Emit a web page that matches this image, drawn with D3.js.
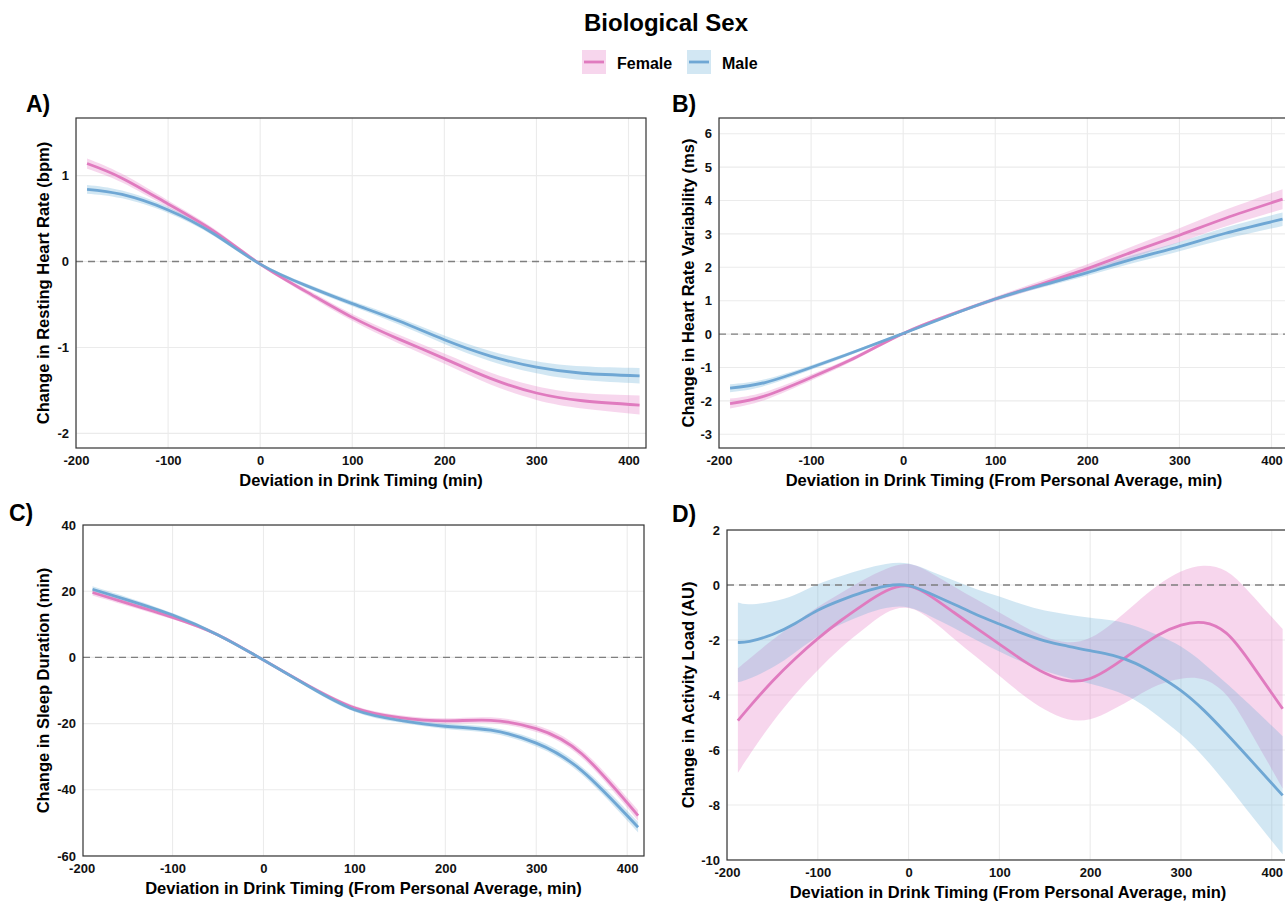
<!DOCTYPE html>
<html>
<head>
<meta charset="utf-8">
<script src="https://cdn.jsdelivr.net/npm/d3@7"></script>
<style>
  html, body { margin: 0; padding: 0; background: #fff; }
  svg { display: block; font-family: "Liberation Sans", Arial, Helvetica, sans-serif; }
</style>
</head>
<body>
<svg id="chart" width="1285" height="901"></svg>
<script>
// ---- Data: model estimates (mean and CI half-width) per sex ----
const sexes = ["Female", "Male"];
const xTickValues = [-200, -100, 0, 100, 200, 300, 400];

// A) Resting heart rate (bpm)
const rhrX = [-188, -150, -100, -50, 0, 50, 100, 150, 200, 250, 300, 350, 412];
const rhrFemale = [1.14, 0.97, 0.67, 0.35, -0.03, -0.35, -0.65, -0.90, -1.13, -1.36, -1.53, -1.62, -1.67];
const rhrMale = [0.84, 0.78, 0.60, 0.32, -0.03, -0.28, -0.49, -0.69, -0.91, -1.10, -1.23, -1.30, -1.33];
const rhrFemaleCI = [0.06, 0.05, 0.04, 0.03, 0.02, 0.03, 0.04, 0.05, 0.06, 0.07, 0.08, 0.09, 0.11];
const rhrMaleCI = [0.05, 0.045, 0.035, 0.025, 0.02, 0.025, 0.03, 0.04, 0.05, 0.06, 0.07, 0.08, 0.09];
const rhrYTicks = [-2, -1, 0, 1];

// B) Heart rate variability (ms)
const hrvX = [-188, -150, -100, -50, 0, 50, 100, 150, 200, 250, 300, 350, 412];
const hrvFemale = [-2.08, -1.85, -1.30, -0.68, 0.02, 0.57, 1.05, 1.50, 1.96, 2.47, 2.96, 3.47, 4.04];
const hrvMale = [-1.62, -1.45, -1.00, -0.50, 0.02, 0.55, 1.05, 1.46, 1.84, 2.25, 2.62, 3.02, 3.44];
const hrvFemaleCI = [0.15, 0.12, 0.09, 0.06, 0.04, 0.05, 0.07, 0.10, 0.13, 0.17, 0.21, 0.25, 0.30];
const hrvMaleCI = [0.12, 0.10, 0.07, 0.05, 0.03, 0.04, 0.05, 0.07, 0.09, 0.12, 0.14, 0.17, 0.20];
const hrvYTicks = [-3, -2, -1, 0, 1, 2, 3, 4, 5, 6];

// C) Sleep duration (min)
const sleepX = [-188, -150, -100, -50, 0, 50, 100, 150, 200, 250, 300, 350, 412];
const sleepFemale = [19.6, 16.4, 12.1, 6.8, -0.8, -8.6, -15.2, -18.2, -19.2, -19.0, -21.5, -29.1, -47.8];
const sleepMale = [20.6, 17.4, 12.8, 6.8, -0.8, -8.8, -15.8, -19.0, -20.8, -22.0, -25.9, -34.2, -51.3];
const sleepFemaleCI = [0.9, 0.8, 0.6, 0.5, 0.4, 0.5, 0.6, 0.7, 0.8, 0.9, 1.0, 1.2, 1.6];
const sleepMaleCI = [0.9, 0.8, 0.6, 0.5, 0.4, 0.5, 0.6, 0.7, 0.8, 0.9, 1.0, 1.2, 1.6];
const sleepYTicks = [-60, -40, -20, 0, 20, 40];

// D) Activity load (AU)
const loadX = [-188, -175, -150, -125, -100, -75, -50, -25, 0, 25, 50, 75, 100, 125, 150, 175, 200, 225, 250, 275, 300, 325, 350, 375, 412];
const loadFemale = [-4.93, -4.42, -3.5, -2.68, -1.95, -1.3, -0.72, -0.22, -0.04, -0.42, -1.0, -1.58, -2.15, -2.72, -3.2, -3.48, -3.4, -2.95, -2.37, -1.82, -1.46, -1.37, -1.75, -2.75, -4.5];
const loadMale = [-2.09, -2.05, -1.8, -1.4, -0.92, -0.56, -0.26, -0.04, -0.02, -0.33, -0.7, -1.08, -1.42, -1.75, -2.03, -2.22, -2.39, -2.56, -2.85, -3.3, -3.84, -4.55, -5.4, -6.3, -7.65];
const loadFemaleCI = [1.9, 1.75, 1.5, 1.3, 1.15, 1.0, 0.9, 0.8, 0.8, 0.85, 0.95, 1.05, 1.15, 1.25, 1.33, 1.4, 1.48, 1.58, 1.7, 1.82, 1.95, 2.07, 2.25, 2.5, 2.9];
const loadMaleCI = [1.45, 1.35, 1.2, 1.05, 0.95, 0.88, 0.83, 0.8, 0.8, 0.82, 0.86, 0.93, 1.0, 1.05, 1.1, 1.15, 1.2, 1.27, 1.35, 1.47, 1.6, 1.7, 1.83, 1.97, 2.15];
const loadYTicks = [-10, -8, -6, -4, -2, 0, 2];

// ---- Styling ----
const lineColor = { Female: "#e07bbf", Male: "#6fa7d4" };
const fillColor = { Female: "#e377c2", Male: "#6baed6" };
const fillOpacity = 0.3;
const curve = d3.curveNatural;
const tickFormat = d => String(d);

const svg = d3.select("#chart");
svg.append("rect").attr("width", 1285).attr("height", 901).attr("fill", "#fff");

// ---- Title and legend ----
svg.append("text")
  .attr("x", 666).attr("y", 31)
  .attr("text-anchor", "middle")
  .attr("font-size", 24).attr("font-weight", "bold")
  .text("Biological Sex");

const legend = svg.append("g");
const legendItems = [
  { key: "Female", x: 582, tx: 617 },
  { key: "Male", x: 687, tx: 722 }
];
legendItems.forEach(it => {
  legend.append("rect")
    .attr("x", it.x).attr("y", 50).attr("width", 24).attr("height", 24)
    .attr("fill", fillColor[it.key]).attr("fill-opacity", fillOpacity);
  legend.append("line")
    .attr("x1", it.x + 2).attr("x2", it.x + 22).attr("y1", 62).attr("y2", 62)
    .attr("stroke", lineColor[it.key]).attr("stroke-width", 2.8);
  legend.append("text")
    .attr("x", it.tx).attr("y", 69)
    .attr("font-size", 16).attr("font-weight", "bold")
    .text(it.key);
});

// ---- Panels ----
const panels = [
  {
    label: "A)", labelX: 26, labelY: 112,
    box: { left: 76, top: 118, right: 646, bottom: 448 },
    xDomain: [-200, 419], yDomain: [-2.17, 1.67], yTicks: rhrYTicks,
    yTitle: "Change in Resting Heart Rate (bpm)", yTitleX: 43,
    xTitle: "Deviation in Drink Timing (min)",
    x: rhrX, series: { Female: [rhrFemale, rhrFemaleCI], Male: [rhrMale, rhrMaleCI] }
  },
  {
    label: "B)", labelX: 672, labelY: 112,
    box: { left: 719, top: 118, right: 1289, bottom: 448 },
    xDomain: [-200, 419], yDomain: [-3.41, 6.47], yTicks: hrvYTicks,
    yTitle: "Change in Heart Rate Variability (ms)", yTitleX: 688,
    xTitle: "Deviation in Drink Timing (From Personal Average, min)",
    x: hrvX, series: { Female: [hrvFemale, hrvFemaleCI], Male: [hrvMale, hrvMaleCI] }
  },
  {
    label: "C)", labelX: 9, labelY: 521,
    box: { left: 83, top: 525, right: 644, bottom: 856 },
    xDomain: [-198.5, 418.5], yDomain: [-60, 40], yTicks: sleepYTicks,
    yTitle: "Change in Sleep Duration (min)", yTitleX: 43,
    xTitle: "Deviation in Drink Timing (From Personal Average, min)",
    x: sleepX, series: { Female: [sleepFemale, sleepFemaleCI], Male: [sleepMale, sleepMaleCI] }
  },
  {
    label: "D)", labelX: 672, labelY: 522,
    box: { left: 727, top: 530, right: 1289, bottom: 860 },
    xDomain: [-200, 419], yDomain: [-10, 2], yTicks: loadYTicks,
    yTitle: "Change in Activity Load (AU)", yTitleX: 688,
    xTitle: "Deviation in Drink Timing (From Personal Average, min)",
    x: loadX, series: { Female: [loadFemale, loadFemaleCI], Male: [loadMale, loadMaleCI] }
  }
];

panels.forEach((p, i) => {
  const b = p.box;
  const x = d3.scaleLinear().domain(p.xDomain).range([b.left, b.right]);
  const y = d3.scaleLinear().domain(p.yDomain).range([b.bottom, b.top]);
  const g = svg.append("g");

  const clipId = "clip" + i;
  g.append("clipPath").attr("id", clipId)
    .append("rect").attr("x", b.left).attr("y", b.top)
    .attr("width", b.right - b.left).attr("height", b.bottom - b.top);

  // grid
  const grid = g.append("g").attr("clip-path", `url(#${clipId})`);
  grid.selectAll("line.gx").data(xTickValues).join("line")
    .attr("x1", d => x(d)).attr("x2", d => x(d))
    .attr("y1", b.top).attr("y2", b.bottom)
    .attr("stroke", "#ebebeb").attr("stroke-width", 1.1);
  grid.selectAll("line.gy").data(p.yTicks).join("line")
    .attr("x1", b.left).attr("x2", b.right)
    .attr("y1", d => y(d)).attr("y2", d => y(d))
    .attr("stroke", "#ebebeb").attr("stroke-width", 1.1);

  const plot = g.append("g").attr("clip-path", `url(#${clipId})`);

  // confidence bands
  sexes.forEach(s => {
    const [mean, ci] = p.series[s];
    const pts = p.x.map((xv, k) => ({ x: xv, m: mean[k], h: ci[k] }));
    const area = d3.area()
      .x(d => x(d.x)).y0(d => y(d.m - d.h)).y1(d => y(d.m + d.h))
      .curve(curve);
    plot.append("path").datum(pts)
      .attr("d", area)
      .attr("fill", fillColor[s]).attr("fill-opacity", fillOpacity);
  });

  // zero reference line
  plot.append("line")
    .attr("x1", b.left).attr("x2", b.right)
    .attr("y1", y(0)).attr("y2", y(0))
    .attr("stroke", "#7f7f7f").attr("stroke-width", 1.3)
    .attr("stroke-dasharray", "7,5");

  // mean curves
  sexes.forEach(s => {
    const [mean] = p.series[s];
    const pts = p.x.map((xv, k) => ({ x: xv, m: mean[k] }));
    const line = d3.line().x(d => x(d.x)).y(d => y(d.m)).curve(curve);
    plot.append("path").datum(pts)
      .attr("d", line)
      .attr("fill", "none")
      .attr("stroke", lineColor[s]).attr("stroke-width", 2.8);
  });

  // panel border
  g.append("rect")
    .attr("x", b.left).attr("y", b.top)
    .attr("width", b.right - b.left).attr("height", b.bottom - b.top)
    .attr("fill", "none").attr("stroke", "#333").attr("stroke-width", 1.2);

  // axes (labels only, no tick marks)
  const xAxis = d3.axisBottom(x).tickValues(xTickValues).tickSize(0).tickPadding(8)
    .tickFormat(tickFormat);
  const gx = g.append("g").attr("transform", `translate(0,${b.bottom})`).call(xAxis);
  gx.select(".domain").remove();
  gx.selectAll("text").attr("font-size", 13).attr("font-weight", "bold")
    .attr("fill", "#111").attr("font-family", "Liberation Sans, Arial, sans-serif");

  const yAxis = d3.axisLeft(y).tickValues(p.yTicks).tickSize(0).tickPadding(7)
    .tickFormat(tickFormat);
  const gy = g.append("g").attr("transform", `translate(${b.left},0)`).call(yAxis);
  gy.select(".domain").remove();
  gy.selectAll("text").attr("font-size", 13).attr("font-weight", "bold")
    .attr("fill", "#111").attr("font-family", "Liberation Sans, Arial, sans-serif");

  // axis titles
  g.append("text")
    .attr("x", (b.left + b.right) / 2).attr("y", b.bottom + 38)
    .attr("text-anchor", "middle")
    .attr("font-size", 16.5).attr("font-weight", "bold")
    .text(p.xTitle);
  g.append("text")
    .attr("transform", `translate(${p.yTitleX},${(b.top + b.bottom) / 2}) rotate(-90)`)
    .attr("text-anchor", "middle").attr("dy", "0.35em")
    .attr("font-size", 16.5).attr("font-weight", "bold")
    .text(p.yTitle);

  // panel tag
  g.append("text")
    .attr("x", p.labelX).attr("y", p.labelY)
    .attr("font-size", 23).attr("font-weight", "bold")
    .text(p.label);
});
</script>
</body>
</html>
